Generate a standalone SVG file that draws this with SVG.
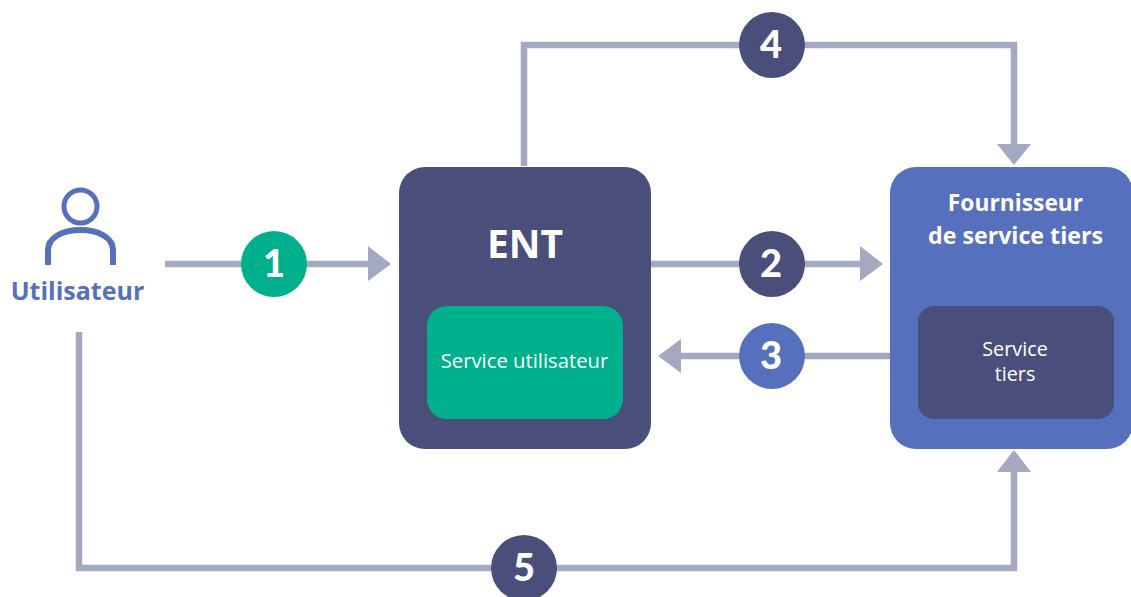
<svg xmlns="http://www.w3.org/2000/svg" width="1131" height="597" viewBox="0 0 1131 597">
<defs><style>
text{font-family:"Open Sans","Liberation Sans",sans-serif;text-anchor:middle}
.c{fill:none;stroke:#a4a8c1;stroke-width:6.5}
.a{fill:#a4a8c1}
.n{font-family:Lato,"Open Sans",sans-serif;font-weight:900;font-size:38px;fill:#fff}
.w{fill:#fff;font-size:19.8px}
.h{fill:#fff;font-weight:700;font-size:22.8px}
</style></defs>
<rect width="1131" height="597" fill="#fff"/>
<g id="connectors">
<path class="c" d="M165 264H372"/><path class="a" d="M368 246L391 264L368 281Z"/>
<path class="c" d="M651 264H864"/><path class="a" d="M860 246L883 264L860 281Z"/>
<path class="c" d="M890 356H678"/><path class="a" d="M681 339L658 356L681 373Z"/>
<path class="c" d="M524 166V45H1014V146"/><path class="a" d="M997 144L1014 165L1031 144Z"/>
<path class="c" d="M79 332V568H1014V470"/><path class="a" d="M997 472L1014 450L1031 472Z"/>
</g>
<g id="user" fill="none" stroke="#5670bd">
<circle cx="80.5" cy="206.5" r="16.5" stroke-width="5"/>
<path stroke-width="6" d="M48 265V250C48 238 62 230 80.5 230C99 230 113 238 113 250V265"/>
<text x="77.5" y="300" style="font-weight:700;font-size:25px;fill:#5670bd;stroke:none">Utilisateur</text>
</g>
<g id="ent">
<rect x="399" y="167" width="252" height="282" rx="26" fill="#4a4e7b"/>
<text x="525" y="258" style="fill:#fff;font-weight:700;font-size:39px">ENT</text>
</g>
<g id="service-utilisateur">
<rect x="427" y="306" width="196" height="113" rx="20" fill="#00b08c"/>
<text class="w" x="524.500" y="368" style="font-size:20.3px">Service utilisateur</text>
</g>
<g id="fournisseur">
<rect x="890" y="167" width="243" height="282" rx="26" fill="#5670bd"/>
<text class="h" x="1015.500" y="211">Fournisseur</text>
<text class="h" x="1015.500" y="244" style="font-size:23.2px">de service tiers</text>
</g>
<g id="service-tiers">
<rect x="918" y="306" width="196" height="113" rx="16" fill="#4a4e7b"/>
<text class="w" x="1015" y="356">Service</text>
<text class="w" x="1015" y="381">tiers</text>
</g>
<g id="n1"><circle cx="274" cy="264" r="33" fill="#00b08c"/><text class="n" x="274" y="277">1</text></g>
<g id="n2"><circle cx="772" cy="264" r="33" fill="#4a4e7b"/><text class="n" x="771" y="277">2</text></g>
<g id="n3"><circle cx="772" cy="356" r="33" fill="#5670bd"/><text class="n" x="771" y="369">3</text></g>
<g id="n4"><circle cx="772" cy="45" r="33" fill="#4a4e7b"/><text class="n" x="771" y="58">4</text></g>
<g id="n5"><circle cx="524" cy="568" r="33" fill="#4a4e7b"/><text class="n" x="524" y="581">5</text></g>
</svg>
